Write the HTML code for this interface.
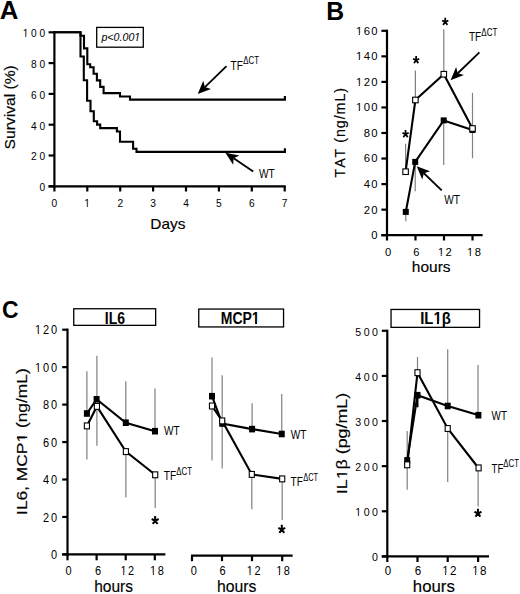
<!DOCTYPE html>
<html><head><meta charset="utf-8"><style>
html,body{margin:0;padding:0;background:#fff;overflow:hidden;}
svg{display:block;font-family:"Liberation Sans", sans-serif;font-kerning:none;}
text.t{stroke:#000;stroke-width:0.15px;}
</style></head><body>
<svg width="520" height="594" viewBox="0 0 520 594">
<rect width="520" height="594" fill="#fff"/>
<text transform="translate(0.30,18.50) scale(1.0080,1)" x="-0.64" y="0" font-size="25.58" font-weight="bold" font-style="normal" fill="#000">A</text>
<line x1="54.40" y1="31.20" x2="54.40" y2="187.40" stroke="#000" stroke-width="2.2" stroke-linecap="butt"/>
<line x1="48.60" y1="186.30" x2="54.40" y2="186.30" stroke="#000" stroke-width="2.2" stroke-linecap="butt"/>
<text transform="translate(39.92,191.20)" x="-0.40" y="0" font-size="10.20" font-weight="normal" font-style="normal" fill="#000" letter-spacing="2.75">0</text>
<line x1="48.60" y1="155.50" x2="54.40" y2="155.50" stroke="#000" stroke-width="2.2" stroke-linecap="butt"/>
<text transform="translate(31.62,160.40)" x="-0.51" y="0" font-size="10.20" font-weight="normal" font-style="normal" fill="#000" letter-spacing="2.75">20</text>
<line x1="48.60" y1="124.70" x2="54.40" y2="124.70" stroke="#000" stroke-width="2.2" stroke-linecap="butt"/>
<text transform="translate(31.34,129.60)" x="-0.23" y="0" font-size="10.20" font-weight="normal" font-style="normal" fill="#000" letter-spacing="2.75">40</text>
<line x1="48.60" y1="93.90" x2="54.40" y2="93.90" stroke="#000" stroke-width="2.2" stroke-linecap="butt"/>
<text transform="translate(31.62,98.80)" x="-0.52" y="0" font-size="10.20" font-weight="normal" font-style="normal" fill="#000" letter-spacing="2.75">60</text>
<line x1="48.60" y1="63.10" x2="54.40" y2="63.10" stroke="#000" stroke-width="2.2" stroke-linecap="butt"/>
<text transform="translate(31.55,68.00)" x="-0.44" y="0" font-size="10.20" font-weight="normal" font-style="normal" fill="#000" letter-spacing="2.75">80</text>
<line x1="48.60" y1="32.30" x2="54.40" y2="32.30" stroke="#000" stroke-width="2.2" stroke-linecap="butt"/>
<text transform="translate(23.46,37.20)" x="-0.78" y="0" font-size="10.20" font-weight="normal" font-style="normal" fill="#000" letter-spacing="2.75">100</text>
<rect x="22.56" y="35.74" width="2.69" height="2.36" fill="#fff"/>
<rect x="26.15" y="35.74" width="2.61" height="2.36" fill="#fff"/>
<line x1="48.60" y1="186.30" x2="285.80" y2="186.30" stroke="#000" stroke-width="2.2" stroke-linecap="butt"/>
<line x1="54.40" y1="186.30" x2="54.40" y2="191.50" stroke="#000" stroke-width="2.2" stroke-linecap="butt"/>
<text transform="translate(51.96,207.20)" x="-0.40" y="0" font-size="10.20" font-weight="normal" font-style="normal" fill="#000">0</text>
<line x1="87.30" y1="186.30" x2="87.30" y2="191.50" stroke="#000" stroke-width="2.2" stroke-linecap="butt"/>
<text transform="translate(85.10,207.20)" x="-0.78" y="0" font-size="10.20" font-weight="normal" font-style="normal" fill="#000">1</text>
<rect x="84.20" y="205.74" width="2.69" height="2.36" fill="#fff"/>
<rect x="87.79" y="205.74" width="2.61" height="2.36" fill="#fff"/>
<line x1="120.20" y1="186.30" x2="120.20" y2="191.50" stroke="#000" stroke-width="2.2" stroke-linecap="butt"/>
<text transform="translate(117.88,207.20)" x="-0.51" y="0" font-size="10.20" font-weight="normal" font-style="normal" fill="#000">2</text>
<line x1="153.10" y1="186.30" x2="153.10" y2="191.50" stroke="#000" stroke-width="2.2" stroke-linecap="butt"/>
<text transform="translate(150.68,207.20)" x="-0.39" y="0" font-size="10.20" font-weight="normal" font-style="normal" fill="#000">3</text>
<line x1="186.00" y1="186.30" x2="186.00" y2="191.50" stroke="#000" stroke-width="2.2" stroke-linecap="butt"/>
<text transform="translate(183.43,207.20)" x="-0.23" y="0" font-size="10.20" font-weight="normal" font-style="normal" fill="#000">4</text>
<line x1="218.90" y1="186.30" x2="218.90" y2="191.50" stroke="#000" stroke-width="2.2" stroke-linecap="butt"/>
<text transform="translate(216.48,207.20)" x="-0.41" y="0" font-size="10.20" font-weight="normal" font-style="normal" fill="#000">5</text>
<line x1="251.80" y1="186.30" x2="251.80" y2="191.50" stroke="#000" stroke-width="2.2" stroke-linecap="butt"/>
<text transform="translate(249.45,207.20)" x="-0.52" y="0" font-size="10.20" font-weight="normal" font-style="normal" fill="#000">6</text>
<line x1="284.70" y1="186.30" x2="284.70" y2="191.50" stroke="#000" stroke-width="2.2" stroke-linecap="butt"/>
<text transform="translate(282.38,207.20)" x="-0.52" y="0" font-size="10.20" font-weight="normal" font-style="normal" fill="#000">7</text>
<text transform="translate(151.60,228.60) scale(1.0705,1)" x="-1.18" y="0" font-size="14.40" font-weight="normal" font-style="normal" fill="#000" class="t">Days</text>
<g transform="translate(14.60,148.80) rotate(-90) scale(1.0233,1)"><text class="t" x="-0.69" y="0" font-size="15.30">Survival (%)</text></g>
<rect x="96.7" y="27.4" width="46.6" height="19.8" fill="none" stroke="#000" stroke-width="1.3"/>
<text transform="translate(101.20,41.40) scale(0.9187,1)" x="0.29" y="0" font-size="11.60" font-weight="normal" font-style="italic" fill="#000">p&lt;0.001</text>
<rect x="133.75" y="39.83" width="2.77" height="2.47" fill="#fff"/>
<rect x="137.61" y="39.83" width="2.69" height="2.47" fill="#fff"/>
<path d="M54.2,32.3 H80.5 V35.7 H84 V48.4 H87.3 V64.2 H90.2 V67.3 H93.6 V73.8 H96.9 V80.4 H100.2 V86.9 H103.6 V93.1 H120 V96.5 H130 V99.6 H284.9 V96.0" fill="none" stroke="#000" stroke-width="2.1" stroke-linejoin="miter" stroke-linecap="butt"/>
<path d="M54.2,32.3 H80.5 V56.5 H83.8 V80.2 H87.1 V100.8 H90.5 V111.2 H93.8 V121.2 H97.1 V124.6 H100.2 V128.1 H116.9 V131.5 H120 V141.8 H133.1 V148.8 H136.5 V151.9 H284.9 V148.3" fill="none" stroke="#000" stroke-width="2.1" stroke-linejoin="miter" stroke-linecap="butt"/>
<line x1="226.50" y1="66.20" x2="204.89" y2="87.05" stroke="#000" stroke-width="1.8" stroke-linecap="butt"/>
<path d="M197.70,94.00 L203.24,80.87 L204.89,87.05 L211.01,88.93 Z" fill="#000"/>
<text transform="translate(230.80,69.60) scale(0.7891,1)" x="-0.29" y="0" font-size="12.79" font-weight="normal" font-style="normal" fill="#000">TF</text>
<text transform="translate(243.50,63.80) scale(0.7853,1)" x="-0.30" y="0" font-size="10.00" font-weight="normal" font-style="normal" fill="#000">ΔCT</text>
<line x1="253.20" y1="171.50" x2="233.68" y2="158.30" stroke="#000" stroke-width="1.8" stroke-linecap="butt"/>
<path d="M225.40,152.70 L239.39,155.40 L233.68,158.30 L233.11,164.68 Z" fill="#000"/>
<text transform="translate(259.00,178.20) scale(0.8119,1)" x="-0.05" y="0" font-size="12.50" font-weight="normal" font-style="normal" fill="#000">WT</text>
<text transform="translate(327.90,19.80) scale(0.9847,1)" x="-1.68" y="0" font-size="25.15" font-weight="bold" font-style="normal" fill="#000">B</text>
<line x1="387.00" y1="29.70" x2="387.00" y2="236.30" stroke="#000" stroke-width="2.2" stroke-linecap="butt"/>
<line x1="381.40" y1="235.20" x2="387.00" y2="235.20" stroke="#000" stroke-width="2.2" stroke-linecap="butt"/>
<text transform="translate(371.80,239.10)" x="-0.44" y="0" font-size="11.30" font-weight="normal" font-style="normal" fill="#000" letter-spacing="1.40">0</text>
<line x1="381.40" y1="209.65" x2="387.00" y2="209.65" stroke="#000" stroke-width="2.2" stroke-linecap="butt"/>
<text transform="translate(364.24,213.55)" x="-0.57" y="0" font-size="11.30" font-weight="normal" font-style="normal" fill="#000" letter-spacing="1.40">20</text>
<line x1="381.40" y1="184.10" x2="387.00" y2="184.10" stroke="#000" stroke-width="2.2" stroke-linecap="butt"/>
<text transform="translate(363.93,188.00)" x="-0.26" y="0" font-size="11.30" font-weight="normal" font-style="normal" fill="#000" letter-spacing="1.40">40</text>
<line x1="381.40" y1="158.55" x2="387.00" y2="158.55" stroke="#000" stroke-width="2.2" stroke-linecap="butt"/>
<text transform="translate(364.25,162.45)" x="-0.57" y="0" font-size="11.30" font-weight="normal" font-style="normal" fill="#000" letter-spacing="1.40">60</text>
<line x1="381.40" y1="133.00" x2="387.00" y2="133.00" stroke="#000" stroke-width="2.2" stroke-linecap="butt"/>
<text transform="translate(364.16,136.90)" x="-0.49" y="0" font-size="11.30" font-weight="normal" font-style="normal" fill="#000" letter-spacing="1.40">80</text>
<line x1="381.40" y1="107.45" x2="387.00" y2="107.45" stroke="#000" stroke-width="2.2" stroke-linecap="butt"/>
<text transform="translate(356.85,111.35)" x="-0.86" y="0" font-size="11.30" font-weight="normal" font-style="normal" fill="#000" letter-spacing="1.40">100</text>
<rect x="355.95" y="109.81" width="2.88" height="2.44" fill="#fff"/>
<rect x="359.83" y="109.81" width="2.79" height="2.44" fill="#fff"/>
<line x1="381.40" y1="81.90" x2="387.00" y2="81.90" stroke="#000" stroke-width="2.2" stroke-linecap="butt"/>
<text transform="translate(356.85,85.80)" x="-0.86" y="0" font-size="11.30" font-weight="normal" font-style="normal" fill="#000" letter-spacing="1.40">120</text>
<rect x="355.95" y="84.26" width="2.88" height="2.44" fill="#fff"/>
<rect x="359.83" y="84.26" width="2.79" height="2.44" fill="#fff"/>
<line x1="381.40" y1="56.35" x2="387.00" y2="56.35" stroke="#000" stroke-width="2.2" stroke-linecap="butt"/>
<text transform="translate(356.85,60.25)" x="-0.86" y="0" font-size="11.30" font-weight="normal" font-style="normal" fill="#000" letter-spacing="1.40">140</text>
<rect x="355.95" y="58.71" width="2.88" height="2.44" fill="#fff"/>
<rect x="359.83" y="58.71" width="2.79" height="2.44" fill="#fff"/>
<line x1="381.40" y1="30.80" x2="387.00" y2="30.80" stroke="#000" stroke-width="2.2" stroke-linecap="butt"/>
<text transform="translate(356.85,34.70)" x="-0.86" y="0" font-size="11.30" font-weight="normal" font-style="normal" fill="#000" letter-spacing="1.40">160</text>
<rect x="355.95" y="33.16" width="2.88" height="2.44" fill="#fff"/>
<rect x="359.83" y="33.16" width="2.79" height="2.44" fill="#fff"/>
<line x1="381.40" y1="235.20" x2="482.60" y2="235.20" stroke="#000" stroke-width="2.2" stroke-linecap="butt"/>
<line x1="387.00" y1="235.20" x2="387.00" y2="240.50" stroke="#000" stroke-width="2.2" stroke-linecap="butt"/>
<line x1="415.50" y1="235.20" x2="415.50" y2="240.50" stroke="#000" stroke-width="2.2" stroke-linecap="butt"/>
<line x1="444.00" y1="235.20" x2="444.00" y2="240.50" stroke="#000" stroke-width="2.2" stroke-linecap="butt"/>
<line x1="472.50" y1="235.20" x2="472.50" y2="240.50" stroke="#000" stroke-width="2.2" stroke-linecap="butt"/>
<text transform="translate(385.32,256.00)" x="-0.44" y="0" font-size="11.20" font-weight="normal" font-style="normal" fill="#000">0</text>
<text transform="translate(413.92,256.00)" x="-0.57" y="0" font-size="11.20" font-weight="normal" font-style="normal" fill="#000">6</text>
<text transform="translate(438.73,256.00)" x="-0.85" y="0" font-size="11.20" font-weight="normal" font-style="normal" fill="#000" letter-spacing="1.50">12</text>
<rect x="437.83" y="254.46" width="2.86" height="2.44" fill="#fff"/>
<rect x="441.68" y="254.46" width="2.78" height="2.44" fill="#fff"/>
<text transform="translate(467.79,256.00)" x="-0.85" y="0" font-size="11.20" font-weight="normal" font-style="normal" fill="#000" letter-spacing="1.50">18</text>
<rect x="466.89" y="254.46" width="2.86" height="2.44" fill="#fff"/>
<rect x="470.74" y="254.46" width="2.78" height="2.44" fill="#fff"/>
<text transform="translate(412.90,271.90) scale(1.0533,1)" x="-1.02" y="0" font-size="14.70" font-weight="normal" font-style="normal" fill="#000" class="t">hours</text>
<g transform="translate(344.50,177.20) rotate(-90)"><text class="t" x="-0.32" y="0" font-size="14.20" letter-spacing="0.99">TAT (ng/mL)</text></g>
<line x1="405.60" y1="143.80" x2="405.60" y2="171.70" stroke="#808080" stroke-width="1.2" stroke-linecap="butt"/>
<line x1="415.40" y1="70.60" x2="415.40" y2="100.00" stroke="#808080" stroke-width="1.2" stroke-linecap="butt"/>
<line x1="443.80" y1="29.20" x2="443.80" y2="74.20" stroke="#808080" stroke-width="1.2" stroke-linecap="butt"/>
<line x1="472.50" y1="92.90" x2="472.50" y2="158.30" stroke="#808080" stroke-width="1.2" stroke-linecap="butt"/>
<line x1="405.80" y1="211.90" x2="405.80" y2="221.20" stroke="#808080" stroke-width="1.2" stroke-linecap="butt"/>
<line x1="415.20" y1="161.90" x2="415.20" y2="191.30" stroke="#808080" stroke-width="1.2" stroke-linecap="butt"/>
<line x1="443.70" y1="120.40" x2="443.70" y2="165.00" stroke="#808080" stroke-width="1.2" stroke-linecap="butt"/>
<path d="M405.8,211.9 L415.2,161.9 L443.7,120.4 L472.5,130.0" fill="none" stroke="#000" stroke-width="2.1" stroke-linejoin="miter" stroke-linecap="butt"/>
<path d="M405.6,171.7 L415.4,100 L443.8,74.2 L472.5,128.5" fill="none" stroke="#000" stroke-width="2.1" stroke-linejoin="miter" stroke-linecap="butt"/>
<rect x="402.80" y="208.90" width="6.00" height="6.00" fill="#000"/>
<rect x="412.20" y="158.90" width="6.00" height="6.00" fill="#000"/>
<rect x="440.70" y="117.40" width="6.00" height="6.00" fill="#000"/>
<rect x="469.50" y="127.00" width="6.00" height="6.00" fill="#000"/>
<rect x="402.85" y="168.90" width="5.50" height="5.60" fill="#fff" stroke="#000" stroke-width="1.1"/>
<rect x="412.65" y="97.20" width="5.50" height="5.60" fill="#fff" stroke="#000" stroke-width="1.1"/>
<rect x="441.05" y="71.40" width="5.50" height="5.60" fill="#fff" stroke="#000" stroke-width="1.1"/>
<rect x="469.75" y="125.70" width="5.50" height="5.60" fill="#fff" stroke="#000" stroke-width="1.1"/>
<path d="M405.55,134.31 L405.55,130.01 M405.55,134.31 L408.67,132.72 M405.55,134.31 L402.43,132.72 M405.55,134.31 L407.77,137.15 M405.55,134.31 L403.33,137.15 " stroke="#000" stroke-width="1.75" stroke-linecap="butt" fill="none"/>
<path d="M416.15,60.26 L416.15,55.96 M416.15,60.26 L419.27,58.67 M416.15,60.26 L413.03,58.67 M416.15,60.26 L418.37,63.10 M416.15,60.26 L413.93,63.10 " stroke="#000" stroke-width="1.75" stroke-linecap="butt" fill="none"/>
<path d="M445.25,22.06 L445.25,17.76 M445.25,22.06 L448.37,20.47 M445.25,22.06 L442.13,20.47 M445.25,22.06 L447.47,24.90 M445.25,22.06 L443.03,24.90 " stroke="#000" stroke-width="1.75" stroke-linecap="butt" fill="none"/>
<line x1="479.40" y1="52.30" x2="457.78" y2="73.24" stroke="#000" stroke-width="1.8" stroke-linecap="butt"/>
<path d="M450.60,80.20 L456.11,67.06 L457.78,73.24 L463.91,75.11 Z" fill="#000"/>
<text transform="translate(469.20,41.40) scale(0.7824,1)" x="-0.29" y="0" font-size="12.79" font-weight="normal" font-style="normal" fill="#000">TF</text>
<text transform="translate(481.50,36.20) scale(0.7943,1)" x="-0.30" y="0" font-size="10.14" font-weight="normal" font-style="normal" fill="#000">ΔCT</text>
<line x1="441.70" y1="190.40" x2="423.90" y2="173.24" stroke="#000" stroke-width="1.8" stroke-linecap="butt"/>
<path d="M416.70,166.30 L430.02,171.36 L423.90,173.24 L422.24,179.42 Z" fill="#000"/>
<text transform="translate(444.20,203.80) scale(0.8066,1)" x="-0.05" y="0" font-size="12.50" font-weight="normal" font-style="normal" fill="#000">WT</text>
<text transform="translate(3.00,318.00) scale(0.9441,1)" x="-1.00" y="0" font-size="24.30" font-weight="bold" font-style="normal" fill="#000">C</text>
<rect x="73.75" y="308.75" width="81.90" height="16.60" fill="none" stroke="#000" stroke-width="1.3"/>
<text transform="translate(105.80,323.70) scale(0.8456,1)" x="-1.11" y="0" font-size="16.57" font-weight="bold" font-style="normal" fill="#000">IL6</text>
<rect x="198.75" y="309.05" width="84.80" height="17.90" fill="none" stroke="#000" stroke-width="1.3"/>
<text transform="translate(221.70,324.40) scale(0.8360,1)" x="-1.12" y="0" font-size="16.72" font-weight="bold" font-style="normal" fill="#000">MCP1</text>
<rect x="251.80" y="321.99" width="3.28" height="3.31" fill="#fff"/>
<rect x="257.00" y="321.99" width="3.10" height="3.31" fill="#fff"/>
<rect x="391.05" y="309.45" width="88.50" height="17.90" fill="none" stroke="#000" stroke-width="1.3"/>
<text transform="translate(421.20,323.80) scale(0.9177,1)" x="-1.09" y="0" font-size="16.28" font-weight="bold" font-style="normal" fill="#000">IL1β</text>
<rect x="433.52" y="321.44" width="3.45" height="3.26" fill="#fff"/>
<rect x="439.01" y="321.44" width="3.26" height="3.26" fill="#fff"/>
<line x1="67.50" y1="328.60" x2="67.50" y2="555.50" stroke="#000" stroke-width="2.2" stroke-linecap="butt"/>
<line x1="62.20" y1="554.40" x2="67.50" y2="554.40" stroke="#000" stroke-width="2.2" stroke-linecap="butt"/>
<text transform="translate(51.35,559.10) scale(0.9000,1)" x="-0.48" y="0" font-size="12.20" font-weight="normal" font-style="normal" fill="#000" letter-spacing="2.00">0</text>
<line x1="62.20" y1="516.95" x2="67.50" y2="516.95" stroke="#000" stroke-width="2.2" stroke-linecap="butt"/>
<text transform="translate(43.57,521.65) scale(0.9000,1)" x="-0.61" y="0" font-size="12.20" font-weight="normal" font-style="normal" fill="#000" letter-spacing="2.00">20</text>
<line x1="62.20" y1="479.50" x2="67.50" y2="479.50" stroke="#000" stroke-width="2.2" stroke-linecap="butt"/>
<text transform="translate(43.27,484.20) scale(0.9000,1)" x="-0.28" y="0" font-size="12.20" font-weight="normal" font-style="normal" fill="#000" letter-spacing="2.00">40</text>
<line x1="62.20" y1="442.05" x2="67.50" y2="442.05" stroke="#000" stroke-width="2.2" stroke-linecap="butt"/>
<text transform="translate(43.57,446.75) scale(0.9000,1)" x="-0.62" y="0" font-size="12.20" font-weight="normal" font-style="normal" fill="#000" letter-spacing="2.00">60</text>
<line x1="62.20" y1="404.60" x2="67.50" y2="404.60" stroke="#000" stroke-width="2.2" stroke-linecap="butt"/>
<text transform="translate(43.49,409.30) scale(0.9000,1)" x="-0.53" y="0" font-size="12.20" font-weight="normal" font-style="normal" fill="#000" letter-spacing="2.00">80</text>
<line x1="62.20" y1="367.15" x2="67.50" y2="367.15" stroke="#000" stroke-width="2.2" stroke-linecap="butt"/>
<text transform="translate(35.95,371.85) scale(0.9000,1)" x="-0.93" y="0" font-size="12.20" font-weight="normal" font-style="normal" fill="#000" letter-spacing="2.00">100</text>
<rect x="35.05" y="370.24" width="2.82" height="2.51" fill="#fff"/>
<rect x="38.84" y="370.24" width="2.74" height="2.51" fill="#fff"/>
<line x1="62.20" y1="329.70" x2="67.50" y2="329.70" stroke="#000" stroke-width="2.2" stroke-linecap="butt"/>
<text transform="translate(35.95,334.40) scale(0.9000,1)" x="-0.93" y="0" font-size="12.20" font-weight="normal" font-style="normal" fill="#000" letter-spacing="2.00">120</text>
<rect x="35.05" y="332.79" width="2.82" height="2.51" fill="#fff"/>
<rect x="38.84" y="332.79" width="2.74" height="2.51" fill="#fff"/>
<line x1="62.20" y1="554.40" x2="165.40" y2="554.40" stroke="#000" stroke-width="2.2" stroke-linecap="butt"/>
<line x1="67.50" y1="554.40" x2="67.50" y2="560.30" stroke="#000" stroke-width="2.2" stroke-linecap="butt"/>
<line x1="96.60" y1="554.40" x2="96.60" y2="560.30" stroke="#000" stroke-width="2.2" stroke-linecap="butt"/>
<line x1="125.70" y1="554.40" x2="125.70" y2="560.30" stroke="#000" stroke-width="2.2" stroke-linecap="butt"/>
<line x1="154.80" y1="554.40" x2="154.80" y2="560.30" stroke="#000" stroke-width="2.2" stroke-linecap="butt"/>
<text transform="translate(65.93,575.10) scale(0.9000,1)" x="-0.48" y="0" font-size="12.20" font-weight="normal" font-style="normal" fill="#000">0</text>
<text transform="translate(95.62,575.10) scale(0.9000,1)" x="-0.62" y="0" font-size="12.20" font-weight="normal" font-style="normal" fill="#000">6</text>
<text transform="translate(121.27,575.10) scale(0.9000,1)" x="-0.93" y="0" font-size="12.20" font-weight="normal" font-style="normal" fill="#000" letter-spacing="1.70">12</text>
<rect x="120.37" y="573.49" width="2.82" height="2.51" fill="#fff"/>
<rect x="124.17" y="573.49" width="2.74" height="2.51" fill="#fff"/>
<text transform="translate(150.94,575.10) scale(0.9000,1)" x="-0.93" y="0" font-size="12.20" font-weight="normal" font-style="normal" fill="#000" letter-spacing="1.70">18</text>
<rect x="150.04" y="573.49" width="2.82" height="2.51" fill="#fff"/>
<rect x="153.83" y="573.49" width="2.74" height="2.51" fill="#fff"/>
<text transform="translate(95.20,591.50) scale(0.9643,1)" x="-1.12" y="0" font-size="16.10" font-weight="normal" font-style="normal" fill="#000" class="t">hours</text>
<g transform="translate(26.90,513.30) rotate(-90) scale(1.2067,1)"><text class="t" x="-1.33" y="0" font-size="14.40">IL6, MCP1 (ng/mL)</text><rect x="59.04" y="-1.78" width="3.27" height="2.68" fill="#fff"/><rect x="63.58" y="-1.78" width="3.16" height="2.68" fill="#fff"/></g>
<line x1="86.90" y1="371.20" x2="86.90" y2="413.50" stroke="#808080" stroke-width="1.2" stroke-linecap="butt"/>
<line x1="96.90" y1="355.80" x2="96.90" y2="399.00" stroke="#808080" stroke-width="1.2" stroke-linecap="butt"/>
<line x1="125.80" y1="381.20" x2="125.80" y2="422.70" stroke="#808080" stroke-width="1.2" stroke-linecap="butt"/>
<line x1="155.00" y1="388.50" x2="155.00" y2="431.20" stroke="#808080" stroke-width="1.2" stroke-linecap="butt"/>
<line x1="86.90" y1="425.90" x2="86.90" y2="459.50" stroke="#808080" stroke-width="1.2" stroke-linecap="butt"/>
<line x1="96.90" y1="406.40" x2="96.90" y2="445.80" stroke="#808080" stroke-width="1.2" stroke-linecap="butt"/>
<line x1="125.90" y1="451.60" x2="125.90" y2="497.60" stroke="#808080" stroke-width="1.2" stroke-linecap="butt"/>
<line x1="155.20" y1="474.80" x2="155.20" y2="507.90" stroke="#808080" stroke-width="1.2" stroke-linecap="butt"/>
<path d="M86.9,413.5 L96.6,399.3 L125.8,422.7 L155,431.2" fill="none" stroke="#000" stroke-width="2.1" stroke-linejoin="miter" stroke-linecap="butt"/>
<path d="M86.9,425.9 L96.9,406.4 L125.9,451.6 L155.2,474.8" fill="none" stroke="#000" stroke-width="2.1" stroke-linejoin="miter" stroke-linecap="butt"/>
<rect x="84.35" y="422.95" width="5.10" height="5.90" fill="#fff" stroke="#000" stroke-width="1.1"/>
<rect x="94.35" y="403.45" width="5.10" height="5.90" fill="#fff" stroke="#000" stroke-width="1.1"/>
<rect x="123.35" y="448.65" width="5.10" height="5.90" fill="#fff" stroke="#000" stroke-width="1.1"/>
<rect x="152.65" y="471.85" width="5.10" height="5.90" fill="#fff" stroke="#000" stroke-width="1.1"/>
<rect x="83.90" y="410.20" width="6.00" height="6.60" fill="#000"/>
<rect x="93.60" y="396.00" width="6.00" height="6.60" fill="#000"/>
<rect x="122.80" y="419.40" width="6.00" height="6.60" fill="#000"/>
<rect x="152.00" y="427.90" width="6.00" height="6.60" fill="#000"/>
<path d="M155.15,520.77 L155.15,515.97 M155.15,520.77 L158.62,519.00 M155.15,520.77 L151.68,519.00 M155.15,520.77 L157.61,523.92 M155.15,520.77 L152.69,523.92 " stroke="#000" stroke-width="2.0" stroke-linecap="butt" fill="none"/>
<text transform="translate(164.00,435.30) scale(0.8066,1)" x="-0.05" y="0" font-size="12.50" font-weight="normal" font-style="normal" fill="#000">WT</text>
<text transform="translate(164.00,479.80) scale(0.7891,1)" x="-0.29" y="0" font-size="12.79" font-weight="normal" font-style="normal" fill="#000">TF</text>
<text transform="translate(176.50,474.50) scale(0.7853,1)" x="-0.30" y="0" font-size="10.00" font-weight="normal" font-style="normal" fill="#000">ΔCT</text>
<line x1="191.00" y1="555.70" x2="292.60" y2="555.70" stroke="#000" stroke-width="2.2" stroke-linecap="butt"/>
<line x1="192.00" y1="555.70" x2="192.00" y2="561.20" stroke="#000" stroke-width="2.2" stroke-linecap="butt"/>
<line x1="222.00" y1="555.70" x2="222.00" y2="561.20" stroke="#000" stroke-width="2.2" stroke-linecap="butt"/>
<line x1="252.00" y1="555.70" x2="252.00" y2="561.20" stroke="#000" stroke-width="2.2" stroke-linecap="butt"/>
<line x1="282.20" y1="555.70" x2="282.20" y2="561.20" stroke="#000" stroke-width="2.2" stroke-linecap="butt"/>
<text transform="translate(191.18,575.00) scale(0.9000,1)" x="-0.48" y="0" font-size="12.20" font-weight="normal" font-style="normal" fill="#000">0</text>
<text transform="translate(220.17,575.00) scale(0.9000,1)" x="-0.62" y="0" font-size="12.20" font-weight="normal" font-style="normal" fill="#000">6</text>
<text transform="translate(247.67,575.00) scale(0.9000,1)" x="-0.93" y="0" font-size="12.20" font-weight="normal" font-style="normal" fill="#000" letter-spacing="1.70">12</text>
<rect x="246.77" y="573.39" width="2.82" height="2.51" fill="#fff"/>
<rect x="250.57" y="573.39" width="2.74" height="2.51" fill="#fff"/>
<text transform="translate(277.04,575.00) scale(0.9000,1)" x="-0.93" y="0" font-size="12.20" font-weight="normal" font-style="normal" fill="#000" letter-spacing="1.70">18</text>
<rect x="276.14" y="573.39" width="2.82" height="2.51" fill="#fff"/>
<rect x="279.93" y="573.39" width="2.74" height="2.51" fill="#fff"/>
<text transform="translate(218.10,591.50) scale(0.9985,1)" x="-1.10" y="0" font-size="15.80" font-weight="normal" font-style="normal" fill="#000" class="t">hours</text>
<line x1="212.00" y1="357.50" x2="212.00" y2="396.20" stroke="#808080" stroke-width="1.2" stroke-linecap="butt"/>
<line x1="222.20" y1="375.20" x2="222.20" y2="420.90" stroke="#808080" stroke-width="1.2" stroke-linecap="butt"/>
<line x1="252.10" y1="403.20" x2="252.10" y2="429.10" stroke="#808080" stroke-width="1.2" stroke-linecap="butt"/>
<line x1="281.75" y1="394.00" x2="281.75" y2="434.00" stroke="#808080" stroke-width="1.2" stroke-linecap="butt"/>
<line x1="212.00" y1="406.00" x2="212.00" y2="460.40" stroke="#808080" stroke-width="1.2" stroke-linecap="butt"/>
<line x1="222.20" y1="420.90" x2="222.20" y2="468.50" stroke="#808080" stroke-width="1.2" stroke-linecap="butt"/>
<line x1="251.80" y1="474.40" x2="251.80" y2="509.30" stroke="#808080" stroke-width="1.2" stroke-linecap="butt"/>
<line x1="282.20" y1="478.90" x2="282.20" y2="520.10" stroke="#808080" stroke-width="1.2" stroke-linecap="butt"/>
<path d="M212,396.2 L222.2,423.5 L252.1,429.1 L281.75,434.0" fill="none" stroke="#000" stroke-width="2.1" stroke-linejoin="miter" stroke-linecap="butt"/>
<path d="M212,406 L222.2,420.9 L251.8,474.4 L282.2,478.9" fill="none" stroke="#000" stroke-width="2.1" stroke-linejoin="miter" stroke-linecap="butt"/>
<rect x="209.00" y="392.90" width="6.00" height="6.60" fill="#000"/>
<rect x="219.20" y="420.20" width="6.00" height="6.60" fill="#000"/>
<rect x="249.10" y="425.80" width="6.00" height="6.60" fill="#000"/>
<rect x="278.75" y="430.70" width="6.00" height="6.60" fill="#000"/>
<rect x="209.45" y="403.05" width="5.10" height="5.90" fill="#fff" stroke="#000" stroke-width="1.1"/>
<rect x="219.65" y="417.95" width="5.10" height="5.90" fill="#fff" stroke="#000" stroke-width="1.1"/>
<rect x="249.25" y="471.45" width="5.10" height="5.90" fill="#fff" stroke="#000" stroke-width="1.1"/>
<rect x="279.65" y="475.95" width="5.10" height="5.90" fill="#fff" stroke="#000" stroke-width="1.1"/>
<path d="M281.80,529.67 L281.80,524.87 M281.80,529.67 L285.27,527.90 M281.80,529.67 L278.33,527.90 M281.80,529.67 L284.26,532.82 M281.80,529.67 L279.34,532.82 " stroke="#000" stroke-width="2.0" stroke-linecap="butt" fill="none"/>
<text transform="translate(290.70,438.80) scale(0.8066,1)" x="-0.05" y="0" font-size="12.50" font-weight="normal" font-style="normal" fill="#000">WT</text>
<text transform="translate(290.70,486.40) scale(0.7959,1)" x="-0.29" y="0" font-size="12.79" font-weight="normal" font-style="normal" fill="#000">TF</text>
<text transform="translate(303.40,481.10) scale(0.7336,1)" x="-0.30" y="0" font-size="10.14" font-weight="normal" font-style="normal" fill="#000">ΔCT</text>
<line x1="387.30" y1="329.70" x2="387.30" y2="557.50" stroke="#000" stroke-width="2.2" stroke-linecap="butt"/>
<line x1="381.80" y1="556.40" x2="387.30" y2="556.40" stroke="#000" stroke-width="2.2" stroke-linecap="butt"/>
<text transform="translate(372.52,561.40) scale(0.9000,1)" x="-0.46" y="0" font-size="11.80" font-weight="normal" font-style="normal" fill="#000" letter-spacing="2.80">0</text>
<line x1="381.80" y1="511.28" x2="387.30" y2="511.28" stroke="#000" stroke-width="2.2" stroke-linecap="butt"/>
<text transform="translate(356.06,516.28) scale(0.9000,1)" x="-0.90" y="0" font-size="11.80" font-weight="normal" font-style="normal" fill="#000" letter-spacing="2.80">100</text>
<rect x="355.16" y="514.70" width="2.76" height="2.48" fill="#fff"/>
<rect x="358.86" y="514.70" width="2.68" height="2.48" fill="#fff"/>
<line x1="381.80" y1="466.16" x2="387.30" y2="466.16" stroke="#000" stroke-width="2.2" stroke-linecap="butt"/>
<text transform="translate(355.79,471.16) scale(0.9000,1)" x="-0.59" y="0" font-size="11.80" font-weight="normal" font-style="normal" fill="#000" letter-spacing="2.80">200</text>
<line x1="381.80" y1="421.04" x2="387.30" y2="421.04" stroke="#000" stroke-width="2.2" stroke-linecap="butt"/>
<text transform="translate(355.66,426.04) scale(0.9000,1)" x="-0.45" y="0" font-size="11.80" font-weight="normal" font-style="normal" fill="#000" letter-spacing="2.80">300</text>
<line x1="381.80" y1="375.92" x2="387.30" y2="375.92" stroke="#000" stroke-width="2.2" stroke-linecap="butt"/>
<text transform="translate(355.50,380.92) scale(0.9000,1)" x="-0.27" y="0" font-size="11.80" font-weight="normal" font-style="normal" fill="#000" letter-spacing="2.80">400</text>
<line x1="381.80" y1="330.80" x2="387.30" y2="330.80" stroke="#000" stroke-width="2.2" stroke-linecap="butt"/>
<text transform="translate(355.68,335.80) scale(0.9000,1)" x="-0.47" y="0" font-size="11.80" font-weight="normal" font-style="normal" fill="#000" letter-spacing="2.80">500</text>
<line x1="381.80" y1="556.40" x2="489.00" y2="556.40" stroke="#000" stroke-width="2.2" stroke-linecap="butt"/>
<line x1="387.30" y1="556.40" x2="387.30" y2="562.00" stroke="#000" stroke-width="2.2" stroke-linecap="butt"/>
<line x1="417.50" y1="556.40" x2="417.50" y2="562.00" stroke="#000" stroke-width="2.2" stroke-linecap="butt"/>
<line x1="447.70" y1="556.40" x2="447.70" y2="562.00" stroke="#000" stroke-width="2.2" stroke-linecap="butt"/>
<line x1="478.10" y1="556.40" x2="478.10" y2="562.00" stroke="#000" stroke-width="2.2" stroke-linecap="butt"/>
<text transform="translate(385.23,574.80) scale(0.9500,1)" x="-0.48" y="0" font-size="12.20" font-weight="normal" font-style="normal" fill="#000">0</text>
<text transform="translate(415.33,574.80) scale(0.9500,1)" x="-0.62" y="0" font-size="12.20" font-weight="normal" font-style="normal" fill="#000">6</text>
<text transform="translate(443.07,574.80) scale(0.9500,1)" x="-0.93" y="0" font-size="12.20" font-weight="normal" font-style="normal" fill="#000" letter-spacing="1.40">12</text>
<rect x="442.17" y="573.19" width="2.93" height="2.51" fill="#fff"/>
<rect x="446.13" y="573.19" width="2.84" height="2.51" fill="#fff"/>
<text transform="translate(473.08,574.80) scale(0.9500,1)" x="-0.93" y="0" font-size="12.20" font-weight="normal" font-style="normal" fill="#000" letter-spacing="1.40">18</text>
<rect x="472.18" y="573.19" width="2.93" height="2.51" fill="#fff"/>
<rect x="476.14" y="573.19" width="2.84" height="2.51" fill="#fff"/>
<text transform="translate(414.00,591.50) scale(1.0486,1)" x="-1.11" y="0" font-size="16.00" font-weight="normal" font-style="normal" fill="#000" class="t">hours</text>
<g transform="translate(346.90,492.50) rotate(-90) scale(1.1799,1)"><text class="t" x="-1.39" y="0" font-size="15.10">IL1β (pg/mL)</text><rect x="11.59" y="-1.83" width="3.41" height="2.73" fill="#fff"/><rect x="16.33" y="-1.83" width="3.29" height="2.73" fill="#fff"/></g>
<line x1="407.20" y1="431.10" x2="407.20" y2="489.70" stroke="#808080" stroke-width="1.2" stroke-linecap="butt"/>
<line x1="417.50" y1="357.00" x2="417.50" y2="372.70" stroke="#808080" stroke-width="1.2" stroke-linecap="butt"/>
<line x1="417.50" y1="395.20" x2="417.50" y2="407.30" stroke="#000" stroke-width="2.0" stroke-linecap="butt"/>
<line x1="447.70" y1="349.20" x2="447.70" y2="406.00" stroke="#808080" stroke-width="1.2" stroke-linecap="butt"/>
<line x1="447.70" y1="428.50" x2="447.70" y2="482.10" stroke="#808080" stroke-width="1.2" stroke-linecap="butt"/>
<line x1="478.00" y1="365.00" x2="478.00" y2="415.00" stroke="#808080" stroke-width="1.2" stroke-linecap="butt"/>
<line x1="478.10" y1="467.50" x2="478.10" y2="506.40" stroke="#808080" stroke-width="1.2" stroke-linecap="butt"/>
<path d="M407.2,460.4 L417.5,395.2 L447.7,406 L478,415" fill="none" stroke="#000" stroke-width="2.1" stroke-linejoin="miter" stroke-linecap="butt"/>
<path d="M407.2,464.8 L417.5,372.7 L447.7,428.5 L478.1,467.5" fill="none" stroke="#000" stroke-width="2.1" stroke-linejoin="miter" stroke-linecap="butt"/>
<rect x="404.20" y="457.10" width="6.00" height="6.60" fill="#000"/>
<rect x="414.50" y="391.90" width="6.00" height="6.60" fill="#000"/>
<rect x="444.70" y="402.70" width="6.00" height="6.60" fill="#000"/>
<rect x="475.40" y="411.90" width="6.00" height="6.60" fill="#000"/>
<rect x="404.65" y="461.85" width="5.10" height="5.90" fill="#fff" stroke="#000" stroke-width="1.1"/>
<rect x="414.95" y="369.75" width="5.10" height="5.90" fill="#fff" stroke="#000" stroke-width="1.1"/>
<rect x="445.15" y="425.55" width="5.10" height="5.90" fill="#fff" stroke="#000" stroke-width="1.1"/>
<rect x="476.05" y="464.95" width="5.10" height="5.90" fill="#fff" stroke="#000" stroke-width="1.1"/>
<path d="M477.95,513.52 L477.95,508.72 M477.95,513.52 L481.42,511.75 M477.95,513.52 L474.48,511.75 M477.95,513.52 L480.41,516.67 M477.95,513.52 L475.49,516.67 " stroke="#000" stroke-width="2.0" stroke-linecap="butt" fill="none"/>
<text transform="translate(491.60,420.20) scale(0.7909,1)" x="-0.05" y="0" font-size="12.50" font-weight="normal" font-style="normal" fill="#000">WT</text>
<text transform="translate(491.80,472.50) scale(0.7821,1)" x="-0.28" y="0" font-size="12.35" font-weight="normal" font-style="normal" fill="#000">TF</text>
<text transform="translate(503.60,467.40) scale(0.7690,1)" x="-0.30" y="0" font-size="10.14" font-weight="normal" font-style="normal" fill="#000">ΔCT</text>
</svg>
</body></html>
